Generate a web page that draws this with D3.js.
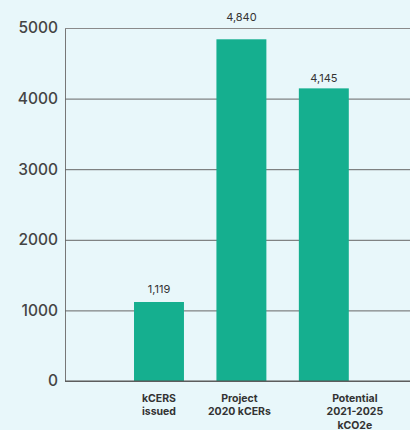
<!DOCTYPE html>
<html><head><meta charset="utf-8">
<script src="https://cdn.jsdelivr.net/npm/d3@7"></script>
<style>
html,body{margin:0;padding:0;background:#e8f7fa;}
svg{display:block;}
</style></head>
<body>
<script>
const categories = ["kCERS issued", "Project 2020 kCERs", "Potential 2021-2025 kCO2e"];
const categoryLines = [["kCERS","issued"],["Project","2020 kCERs"],["Potential","2021-2025","kCO2e"]];
const values = [1119, 4840, 4145];
const valueLabels = ["1,119", "4,840", "4,145"];
const yTicks = [0, 1000, 2000, 3000, 4000, 5000];

const W = 410, H = 430;
const svg = d3.select("body").append("svg").attr("width", W).attr("height", H);
svg.append("rect").attr("width", W).attr("height", H).attr("fill", "#e8f7fa");

const y = d3.scaleLinear().domain([0, 5000]).range([381, 28]);
const x = d3.scaleBand().domain(categories).range([65, 410])
  .paddingInner(0.394).paddingOuter(0.79).align(0.53);

// grid
const yAxis = d3.axisLeft(y).tickValues(yTicks).tickSize(-(W - 65)).tickFormat(d3.format("d")).tickPadding(7);
const gy = svg.append("g").attr("transform", "translate(65,0)").call(yAxis);
gy.select(".domain").attr("stroke", "#777").attr("stroke-width", 1);
gy.selectAll(".tick line").attr("stroke", d => d === 5000 ? "#8a8a8a" : "#666").attr("stroke-width", 1);
gy.selectAll(".tick text").attr("font-family", "Inter, sans-serif").attr("font-size", 15.5)
  .attr("font-weight", 500).attr("fill", "#444").attr("x", -7);

// bars
svg.selectAll("rect.bar").data(categories).enter().append("rect").attr("class", "bar")
  .attr("x", d => x(d)).attr("width", x.bandwidth())
  .attr("y", (d, i) => y(values[i])).attr("height", (d, i) => y(0) - y(values[i]))
  .attr("fill", "#15af8f");

// baseline
svg.append("line").attr("x1", 65).attr("x2", W).attr("y1", y(0)).attr("y2", y(0))
  .attr("stroke", "#555").attr("stroke-width", 1);

// value labels
const labelGap = [9, 18, 6];
svg.selectAll("text.val").data(categories).enter().append("text").attr("class", "val")
  .attr("x", d => x(d) + x.bandwidth() / 2)
  .attr("y", (d, i) => y(values[i]) - labelGap[i])
  .attr("text-anchor", "middle").attr("font-family", "Inter, sans-serif").attr("font-size", 11)
  .attr("fill", "#333").text((d, i) => valueLabels[i]);

// category labels
const catDx = [0, -2, 31];
categories.forEach((c, i) => {
  const t = svg.append("text").attr("text-anchor", "middle")
    .attr("font-family", "Inter, sans-serif").attr("font-size", 10.5).attr("font-weight", 700)
    .attr("fill", "#333");
  categoryLines[i].forEach((ln, j) => {
    t.append("tspan").attr("x", x(c) + x.bandwidth() / 2 + catDx[i]).attr("y", 401.5 + j * 13.6).text(ln);
  });
});
</script>
</body></html>
